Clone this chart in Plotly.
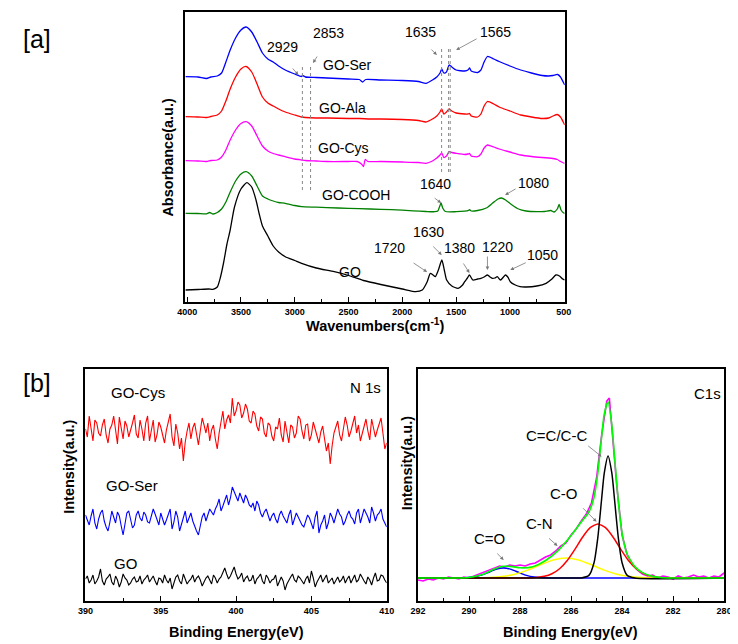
import plotly.graph_objects as go

# page body has an 8px margin: figure is sized to fit the 738x644 window
OFF = 8
W, H = 738 - OFF, 644 - OFF

def PX(px):
    return (px - OFF) / W

def PY(py):
    return 1 - (py - OFF) / H

# ---------------- Panel [a] FTIR data ----------------
ser_w = [4015, 3900, 3820, 3780, 3720, 3680, 3640, 3600, 3550, 3500, 3452, 3400, 3350, 3300, 3250, 3200, 3150, 3088, 3000, 2936, 2929, 2900, 2800, 2700, 2500, 2400, 2370, 2340, 2200, 2000, 1850, 1780, 1720, 1680, 1650, 1634, 1615, 1590, 1565, 1540, 1500, 1420, 1390, 1375, 1360, 1300, 1270, 1240, 1209, 1150, 1100, 1000, 900, 800, 700, 640, 600, 557, 530, 500, 491]
ser_a = [225.3, 225, 223.5, 225, 226, 229, 240, 252, 264, 272, 275, 270, 260, 249, 243, 240, 236, 232, 228, 225.5, 226.5, 225, 224.5, 224, 223, 222.5, 220, 222.5, 222, 221.5, 220.5, 218.7, 222, 225, 229, 233, 229, 230, 237, 235, 232, 231, 232, 234, 231, 229.5, 232, 240, 245.5, 243, 240.5, 236, 232, 229, 226.5, 226, 226.5, 227.5, 225, 219, 217]

ala_w = [4015, 3900, 3820, 3780, 3720, 3680, 3640, 3600, 3550, 3500, 3452, 3400, 3350, 3300, 3250, 3200, 3150, 3088, 3000, 2936, 2900, 2800, 2700, 2500, 2400, 2300, 2200, 2000, 1850, 1780, 1720, 1680, 1650, 1634, 1615, 1590, 1565, 1540, 1500, 1420, 1390, 1375, 1360, 1300, 1270, 1240, 1209, 1150, 1100, 1000, 900, 800, 700, 640, 600, 560, 530, 500, 491]
ala_a = [185.3, 185, 184.5, 185.5, 187, 191, 201, 213, 225, 233, 235.5, 230, 218, 205, 199, 196, 193, 190, 187, 185, 184.5, 184, 184, 183.5, 183.5, 183, 183, 182.5, 181.5, 180, 183, 186, 190, 193, 188, 190, 193, 191, 189, 188, 188, 188.5, 186, 185, 188, 196, 200.5, 198, 195, 191, 187, 185, 183.5, 184, 186, 187.5, 185, 179, 177]

cys_w = [4015, 3900, 3820, 3780, 3720, 3680, 3640, 3600, 3550, 3500, 3452, 3400, 3350, 3300, 3250, 3200, 3150, 3088, 3000, 2936, 2900, 2800, 2700, 2500, 2420, 2380, 2361, 2345, 2320, 2200, 2000, 1850, 1780, 1720, 1680, 1650, 1634, 1615, 1590, 1565, 1540, 1500, 1420, 1390, 1375, 1360, 1300, 1270, 1240, 1209, 1150, 1100, 1000, 900, 800, 700, 640, 600, 560, 530, 500, 491]
cys_a = [141.3, 141, 140.5, 141.5, 142, 145, 152, 162, 172, 178.5, 180.3, 176, 166, 156, 151, 148.5, 147, 145.3, 143, 142, 141.5, 141, 140.5, 140.5, 140.5, 138, 135.5, 142.5, 140.5, 140.5, 140, 139.5, 138.7, 141, 144, 147, 149, 144.5, 146, 150.3, 149.5, 148.7, 147.5, 148, 148.5, 146, 145.3, 148, 154, 157, 155, 153, 150, 147, 145.5, 144.5, 144, 143.5, 142.5, 140.5, 139, 138.7]

cooh_w = [4015, 3900, 3820, 3790, 3760, 3720, 3680, 3640, 3600, 3550, 3500, 3452, 3400, 3350, 3300, 3250, 3200, 3150, 3088, 3000, 2936, 2800, 2700, 2500, 2300, 2100, 1900, 1780, 1700, 1670, 1655, 1640, 1625, 1600, 1500, 1420, 1390, 1375, 1360, 1300, 1220, 1160, 1110, 1080, 1040, 980, 920, 850, 750, 680, 620, 590, 560, 543, 525, 500, 491]
cooh_a = [88.7, 88.5, 88.2, 89.5, 88, 89.5, 93, 100, 110, 121, 128, 130.3, 126, 116, 106, 103, 101, 99.5, 98.7, 96.5, 95.3, 94.8, 94.3, 93.7, 93, 92.3, 91.2, 90.5, 90.3, 91, 95, 99, 94, 90.5, 90.3, 90.8, 91.3, 92.3, 91, 91.5, 94, 99, 103, 104, 102, 97, 93, 91, 90.3, 90.5, 91.5, 90, 93, 97.5, 92, 89, 88.7]

go_w = [4015, 3900, 3800, 3760, 3720, 3690, 3660, 3630, 3600, 3560, 3500, 3445, 3400, 3360, 3330, 3300, 3250, 3200, 3150, 3088, 3000, 2936, 2800, 2633, 2500, 2361, 2200, 2000, 1876, 1815, 1770, 1740, 1715, 1694, 1665, 1633, 1610, 1588, 1540, 1482, 1440, 1421, 1395, 1376, 1345, 1300, 1270, 1240, 1209, 1185, 1164, 1140, 1118, 1088, 1060, 1042, 1020, 997, 950, 906, 850, 750, 664, 610, 573, 540, 510, 491]
go_a = [12, 12.5, 13, 12.7, 15, 25, 40, 58, 72, 95, 113, 119.3, 115, 102, 88, 76, 66, 56, 50, 45.3, 41.5, 38.7, 34, 30.3, 26.5, 21.5, 17.5, 13, 10.3, 12, 20, 28.7, 27, 25.3, 32, 42, 32, 22, 16, 13.7, 17, 20.3, 24, 27, 22, 23, 23.7, 25, 27, 25, 23.7, 24, 25.3, 22, 25, 27, 25, 20.3, 17, 15.3, 15, 16, 18.7, 23, 27, 26, 23, 22]

guide_w = [2929, 2853, 1635, 1570, 1555]

# ---------------- Panel [b] N 1s data (390-410 eV, 0.125 eV steps) ----------------
n_e = [390 + 0.125 * i for i in range(161)]
n_cys = [172, 164, 185, 170, 160, 181, 178, 168, 165, 176,
         182, 166, 158, 172, 176, 185, 168, 157, 184, 171,
         162, 180, 175, 164, 170, 178, 186, 167, 163, 181,
         172, 160, 178, 185, 160, 170, 181, 159, 166, 179,
         174, 166, 158, 171, 179, 187, 164, 155, 177, 168,
         152, 163, 140, 159, 170, 178, 162, 173, 178, 165,
         156, 170, 183, 176, 168, 178, 160, 171, 176, 162,
         152, 168, 180, 190, 172, 181, 186, 178, 203, 185,
         190, 199, 196, 183, 188, 197, 192, 180, 178, 190,
         187, 175, 170, 184, 182, 168, 164, 178, 176, 165,
         160, 174, 172, 183, 166, 159, 180, 170, 158, 176,
         174, 163, 168, 185, 182, 170, 162, 176, 177, 160,
         166, 179, 172, 165, 158, 169, 175, 162, 150, 158,
         137, 155, 168, 174, 180, 166, 160, 172, 184, 176,
         164, 170, 178, 185, 168, 176, 160, 167, 176, 182,
         170, 161, 182, 174, 164, 171, 178, 183, 168, 152,
         158]
n_ser = [86, 80, 76, 85, 92, 78, 72, 82, 88, 91,
         80, 74, 70, 79, 90, 84, 78, 89, 85, 75,
         66, 77, 88, 90, 82, 73, 76, 86, 90, 83,
         80, 89, 86, 79, 78, 84, 92, 87, 82, 76,
         88, 83, 76, 81, 86, 92, 72, 79, 90, 84,
         70, 77, 85, 90, 78, 83, 88, 80, 74, 70,
         66, 75, 84, 88, 80, 86, 92, 89, 86, 92,
         96, 102, 90, 95, 100, 106, 96, 103, 114, 109,
         104, 100, 108, 103, 98, 106, 102, 96, 94, 98,
         90, 100, 96, 88, 84, 89, 92, 86, 80, 85,
         88, 82, 78, 86, 90, 85, 82, 78, 86, 91,
         76, 82, 88, 84, 80, 76, 74, 81, 86, 83,
         78, 72, 84, 90, 68, 76, 80, 86, 72, 78,
         88, 84, 78, 86, 92, 87, 84, 76, 80, 86,
         90, 84, 82, 77, 88, 92, 78, 85, 92, 88,
         84, 78, 94, 88, 80, 86, 88, 92, 82, 78,
         74]
n_go = [22, 25, 18, 21, 26, 17, 20, 24, 32, 20,
        16, 22, 24, 27, 19, 16, 25, 21, 14, 19,
        27, 23, 21, 16, 18, 22, 24, 19, 20, 25,
        17, 21, 23, 26, 19, 22, 25, 20, 16, 23,
        22, 18, 26, 21, 18, 23, 12, 18, 24, 26,
        20, 17, 27, 22, 17, 20, 22, 26, 19, 23,
        25, 21, 15, 19, 23, 25, 20, 17, 26, 23,
        18, 22, 24, 28, 33, 27, 22, 25, 30, 34,
        27, 22, 24, 28, 19, 23, 25, 20, 21, 26,
        17, 22, 24, 27, 20, 17, 26, 23, 18, 21,
        22, 26, 15, 19, 24, 20, 11, 17, 21, 24,
        27, 21, 19, 25, 23, 20, 17, 22, 25, 18,
        30, 23, 14, 19, 22, 26, 19, 23, 26, 18,
        20, 23, 17, 21, 24, 19, 21, 25, 18, 22,
        25, 18, 22, 26, 19, 21, 27, 23, 20, 17,
        24, 21, 16, 23, 28, 20, 21, 26, 25, 21,
        18]

# ---------------- Panel [b] C 1s data ----------------
c_raw_e = [292, 291.8, 291.6, 291.4, 291.2, 291.0, 290.8, 290.6, 290.4, 290.2, 290.0, 289.8, 289.6, 289.4, 289.2, 289.0, 288.8, 288.6, 288.4, 288.2, 288.0, 287.8, 287.6, 287.4, 287.2, 287.0, 286.8, 286.6, 286.4, 286.2, 286.0, 285.8, 285.6, 285.4, 285.2, 285.0, 284.8, 284.6, 284.5, 284.4, 284.2, 284.0, 283.8, 283.6, 283.4, 283.2, 283.0, 282.8, 282.6, 282.4, 282.2, 282.0, 281.8, 281.6, 281.4, 281.2, 281.0, 280.8, 280.6, 280.4, 280.2, 280.0]
c_raw = [21, 20, 22, 21, 23, 22, 24, 23, 22, 24, 23, 25, 27, 29, 31, 33, 35, 34, 36, 35, 36, 35, 37, 38, 41, 44, 46, 50, 55, 58, 66, 72, 80, 87, 98, 123, 166, 200, 203, 172, 113, 66, 46, 37, 31, 27, 25, 26, 23, 25, 24, 22, 25, 23, 24, 26, 24, 25, 23, 25, 24, 28]

c_fit_e = [292, 291, 290.5, 290, 289.5, 289, 288.65, 288.3, 288, 287.5, 287, 286.5, 286, 285.6, 285.3, 285.1, 284.95, 284.8, 284.7, 284.55, 284.4, 284.3, 284.15, 284, 283.8, 283.5, 283.2, 282.8, 282.5, 282, 281, 280]
c_fit = [23, 23, 23, 23.5, 26.2, 32, 34.7, 34.4, 33.2, 34.3, 40.5, 50.6, 65.5, 79.1, 89, 103.5, 128.2, 164.5, 186.9, 199.2, 175.4, 145.8, 100, 67.7, 46.7, 34.4, 28.4, 24.6, 23.5, 23, 23, 23]

cc_e = [292, 286.0, 285.6, 285.3, 285.1, 284.95, 284.8, 284.7, 284.55, 284.4, 284.3, 284.15, 284.0, 283.8, 283.5, 280]
cc_i = [23, 23, 23.1, 25.6, 38.3, 63.7, 102.5, 127.6, 145, 127.6, 102.5, 63.7, 38.3, 25.6, 23, 23]

co_e = [292, 287.8, 287.35, 287.05, 286.75, 286.45, 286.15, 285.85, 285.55, 285.25, 284.95, 284.65, 284.35, 284.05, 283.75, 283.45, 283.15, 282.85, 282.55, 282.1, 280]
co_i = [23, 23.1, 23.6, 24.7, 27.3, 32.3, 40.5, 51.7, 63.8, 73.3, 77, 73.3, 63.8, 51.7, 40.5, 32.3, 27.3, 24.7, 23.6, 23.1, 23]

cn_e = [292, 289.7, 289.2, 288.7, 288.2, 287.7, 287.2, 286.7, 286.2, 285.7, 285.2, 284.7, 284.2, 283.7, 283.2, 282.7, 280]
cn_i = [23, 23.1, 23.5, 24.5, 26.8, 30.9, 36.2, 41, 43, 41, 36.2, 30.9, 26.8, 24.5, 23.5, 23.1, 23]

c_o_e = [292, 290.45, 290.15, 289.85, 289.55, 289.25, 288.95, 288.65, 288.35, 288.05, 287.75, 287.45, 287.15, 286.85, 280]
c_o_i = [23, 23, 23.2, 23.9, 25.6, 28.5, 31.6, 33, 31.6, 28.5, 25.6, 23.9, 23.2, 23, 23]

FONT = "Liberation Sans, Arial, sans-serif"
fig = go.Figure()

def line(x, y, color, xa, ya, width=1.3, shape="spline", smooth=0.6):
    fig.add_trace(go.Scatter(x=x, y=y, mode="lines", xaxis=xa, yaxis=ya,
                             line=dict(color=color, width=width, shape=shape,
                                       smoothing=smooth if shape == "spline" else None),
                             showlegend=False, hoverinfo="skip"))

# Panel a curves
line(ser_w, ser_a, "#0000ff", "x", "y")
line(ala_w, ala_a, "#ff0000", "x", "y")
line(cys_w, cys_a, "#ff00ff", "x", "y")
line(cooh_w, cooh_a, "#008000", "x", "y")
line(go_w, go_a, "#000000", "x", "y")

# guide dotted lines
for i, w in enumerate(guide_w):
    y0, y1 = (112, 235) if i < 2 else (130, 254)
    fig.add_trace(go.Scatter(x=[w, w], y=[y0, y1], mode="lines", xaxis="x", yaxis="y",
                             line=dict(color="#888888", width=1, dash="dot"),
                             showlegend=False, hoverinfo="skip"))

# Panel b left
line(n_e, n_cys, "#ff0000", "x2", "y2", width=1.1, shape="linear")
line(n_e, n_ser, "#0000ff", "x2", "y2", width=1.1, shape="linear")
line(n_e, n_go, "#000000", "x2", "y2", width=1.1, shape="linear")

# Panel b right
line(c_raw_e, c_raw, "#ff00ff", "x3", "y3", width=1.6, shape="linear")
line(c_o_e, c_o_i, "#0000ff", "x3", "y3", width=1.5)
line(cn_e, cn_i, "#ffff00", "x3", "y3", width=1.5)
line(co_e, co_i, "#ff0000", "x3", "y3", width=1.5)
line(cc_e, cc_i, "#000000", "x3", "y3", width=1.5)
line(c_fit_e, c_fit, "#00ff00", "x3", "y3", width=1.6)

tickfont = dict(family=FONT, size=9, color="black", weight="bold")
def xax(domain, rng, dtick, minor):
    return dict(domain=domain, range=rng, dtick=dtick, tick0=0, ticks="inside", ticklen=5,
                tickwidth=1.2, tickcolor="black", showline=True, linecolor="black", linewidth=1.8,
                mirror=True, showgrid=False, zeroline=False, tickfont=tickfont,
                minor=dict(dtick=minor, ticks="inside", ticklen=3, tickcolor="black", showgrid=False))

def yax(domain, rng, anchor):
    return dict(domain=domain, range=rng, showticklabels=False, ticks="", showline=True,
                linecolor="black", linewidth=1.8, mirror=True, showgrid=False, zeroline=False,
                anchor=anchor)

fig.update_layout(
    width=W, height=H, margin=dict(l=0, r=0, t=0, b=0),
    paper_bgcolor="white", plot_bgcolor="white", font=dict(family=FONT, color="black"),
    xaxis=dict(**xax([PX(181), PX(569)], [4018, 491], 500, 250), anchor="y"),
    yaxis=yax([PY(302), PY(12)], [0, 290], "x"),
    xaxis2=dict(**xax([PX(79), PX(387)], [390, 410], 5, 2.5), anchor="y2"),
    yaxis2=yax([PY(601), PY(369)], [0, 232], "x2"),
    xaxis3=dict(**xax([PX(419), PX(732)], [292, 280], 2, 1), anchor="y3"),
    yaxis3=yax([PY(601), PY(369)], [0, 232], "x3"),
)

ann = []
def txt(x, y, s, xr, yr, size=14, **kw):
    ann.append(dict(x=x, y=y, xref=xr, yref=yr, text=s, showarrow=False,
                    font=dict(family=FONT, size=size, color="black"), **kw))

def arr(x, y, ax, ay, xr, yr):
    ann.append(dict(x=x, y=y, xref=xr, yref=yr, text="", showarrow=True, ax=ax, ay=ay,
                    arrowhead=2, arrowsize=0.9, arrowwidth=0.8, arrowcolor="#777777", standoff=0))

# Panel a labels
for x, y, s in [(3118, 255, "2929"), (2682, 269, "2853"), (1830, 270, "1635"), (1134, 270, "1565"),
                (2512, 237, "GO-Ser"), (2557, 194, "GO-Ala"), (2543, 154, "GO-Cys"), (2430, 107, "GO-COOH"),
                (1694, 118, "1640"), (785, 119, "1080"), (2482, 30, "GO"), (2118, 54, "1720"),
                (1755, 70, "1630"), (1467, 54, "1380"), (1118, 55, "1220"), (694, 47, "1050")]:
    txt(x, y, s, "x", "y", size=14)
for x, y, ax, ay in [(2966, 227, -7, -8), (2830, 239, 5, -8), (1679, 247, -7, -7), (1500, 252, 22, -12),
                     (1639, 99, -8, -6), (1045, 107, 12, -7), (1770, 30, -15, -10), (1634, 47, -10, -10),
                     (1376, 29, -7, -11), (1209, 32, 0, -15), (997, 32, 17, -8)]:
    arr(x, y, ax, ay, "x", "y")

# Panel b left labels
txt(393.5, 209, "GO-Cys", "x2", "y2", size=15)
txt(393.1, 116, "GO-Ser", "x2", "y2", size=15)
txt(392.66, 38, "GO", "x2", "y2", size=15)
txt(408.57, 214, "N 1s", "x2", "y2", size=15)

# Panel b right labels
txt(280.65, 208, "C1s", "x3", "y3", size=15)
txt(286.59, 166, "C=C/C-C", "x3", "y3", size=15)
txt(286.28, 108, "C-O", "x3", "y3", size=15)
txt(287.23, 78, "C-N", "x3", "y3", size=15)
txt(289.21, 63, "C=O", "x3", "y3", size=15)
for x, y, ax, ay in [(284.8, 144.3, -15, -12), (285.0, 79.3, -15, -15), (286.53, 55, -10, -9), (288.64, 41, -8, -8)]:
    arr(x, y, ax, ay, "x3", "y3")

# Axis titles and panel tags (paper coords)
def ptxt(px, py, s, size=14, angle=0, bold=True):
    ann.append(dict(x=PX(px), y=PY(py), xref="paper", yref="paper", text=s, showarrow=False,
                    textangle=angle, xanchor="center", yanchor="middle",
                    font=dict(family=FONT, size=size, color="black", weight="bold" if bold else "normal")))

ptxt(375, 325, "Wavenumbers(cm<sup>-1</sup>)", 14.5)
ptxt(163, 157, "Absorbance(a.u.)", 14.5, -90)
ptxt(233, 632, "Binding Energy(eV)", 14.5)
ptxt(575, 632, "Binding Energy(eV)", 14.5)
ptxt(62, 467, "Intensity(a.u.)", 14.5, -90)
ptxt(408, 463, "Intensity(a.u.)", 14.5, -90)
ptxt(29, 39, "[a]", 25, bold=False)
ptxt(29, 383, "[b]", 25, bold=False)

fig.update_layout(annotations=ann)
fig.write_html("out.html")
